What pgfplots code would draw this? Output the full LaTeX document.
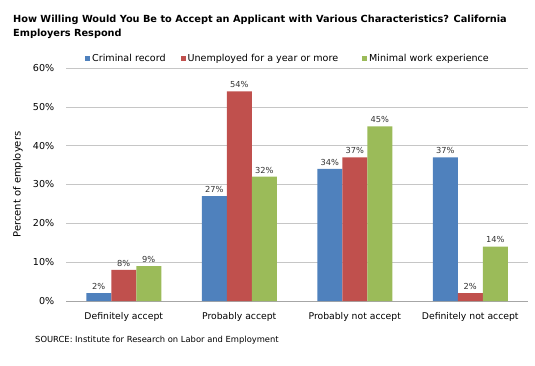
\documentclass[border=0pt]{standalone}
\usepackage{pgfplots}
\pgfplotsset{compat=1.18}
\usepackage{fontspec}
\setmainfont{DejaVu Sans}
\definecolor{cblue}{HTML}{4F81BD}
\definecolor{cred}{HTML}{C0504D}
\definecolor{cgreen}{HTML}{9BBB59}
\begin{document}
\begin{tikzpicture}[x=1bp,y=1bp]
\useasboundingbox (0,0) rectangle (535,365);
\node[anchor=north west, align=left, font=\bfseries\fontsize{9.8}{14}\selectfont, inner sep=0pt] at (13,350)
 {How Willing Would You Be to Accept an Applicant with Various Characteristics? California\\Employers Respond};
\node[anchor=west, font=\fontsize{8.4}{10}\selectfont, inner sep=0pt] at (35,25) {SOURCE: Institute for Research on Labor and Employment};
\begin{axis}[
  at={(66bp,64bp)}, anchor=south west,
  scale only axis, width=462bp, height=233bp,
  ybar=0pt, bar width=25bp,
  xmin=-0.5, xmax=3.5, ymin=0, ymax=60,
  ytick={0,10,...,60},
  yticklabel={\pgfmathprintnumber{\tick}\%},
  /pgf/number format/assume math mode=true,
  xtick={0,1,2,3},
  xticklabels={Definitely accept,Probably accept,Probably not accept,Definitely not accept},
  extra x ticks={-0.5,0.5,1.5,2.5,3.5},
  extra x tick labels={},
  extra x tick style={major tick length=4bp, tick style={draw=gray!70}, grid=none},
  major x tick style={draw=none},
  tick align=outside,
  axis x line*=bottom, axis y line*=left,
  x axis line style={draw=gray!70, -},
  y axis line style={draw=none},
  ymajorgrids, xmajorgrids=false, grid style={gray!45, line width=0.6pt},
  y tick style={draw=none},
  yticklabel style={font=\fontsize{9.6}{11}\selectfont, xshift=-4bp},
  xticklabel style={font=\fontsize{9.3}{11}\selectfont, yshift=-4bp},
  ylabel={Percent of employers},
  ylabel style={font=\fontsize{9.3}{11}\selectfont},
  every axis y label/.style={at={(-48bp,0.5)}, rotate=90, anchor=center},
  nodes near coords={\pgfmathprintnumber{\pgfplotspointmeta}\%},
  every node near coord/.append style={font=\fontsize{8.3}{10}\selectfont, color=black!80, yshift=0bp},
  legend columns=3,
  legend style={draw=none, fill=none, at={(16bp,242bp)}, anchor=west, font=\fontsize{9.6}{11}\selectfont,
    /tikz/column 2/.style={column sep=13bp},
    /tikz/column 4/.style={column sep=22bp}},
  legend image code/.code={\fill[#1] (0bp,-2.5bp) rectangle (5bp,2.5bp);},
]
\addplot[fill=cblue, draw=none] coordinates {(0,2) (1,27) (2,34) (3,37)};
\addplot[fill=cred, draw=none] coordinates {(0,8) (1,54) (2,37) (3,2)};
\addplot[fill=cgreen, draw=none] coordinates {(0,9) (1,32) (2,45) (3,14)};
\legend{Criminal record,Unemployed for a year or more,Minimal work experience}
\end{axis}
\end{tikzpicture}
\end{document}
